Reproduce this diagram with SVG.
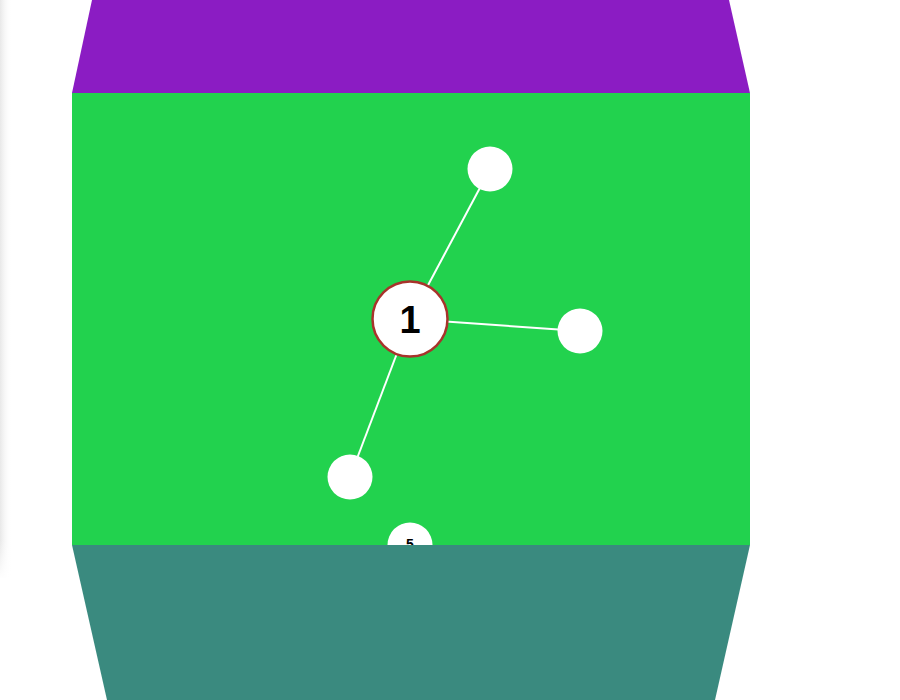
<svg xmlns="http://www.w3.org/2000/svg" width="900" height="700" viewBox="0 0 900 700">
<defs>
<linearGradient id="shadow" x1="0" y1="0" x2="1" y2="0">
<stop offset="0" stop-color="#e8e8e8"/>
<stop offset="1" stop-color="#ffffff" stop-opacity="0"/>
</linearGradient>
<linearGradient id="shadowfade" x1="0" y1="0" x2="0" y2="1">
<stop offset="0" stop-color="#fff" stop-opacity="0"/>
<stop offset="1" stop-color="#fff" stop-opacity="1"/>
</linearGradient>
</defs>
<style>
.edge{stroke:#ffffff;stroke-width:2;fill:none}
.leaf{fill:#ffffff}
.hub{fill:#ffffff;stroke:#a8332b;stroke-width:2.5}
.lbl{font-family:"Liberation Sans",Arial,sans-serif;font-weight:bold;fill:#000;text-anchor:middle;dominant-baseline:central}
</style>
<rect x="0" y="0" width="900" height="700" fill="#ffffff"/>
<rect x="0" y="0" width="12" height="578" fill="url(#shadow)"/>
<rect x="0" y="540" width="12" height="40" fill="url(#shadowfade)"/>
<polygon id="top-band" points="92,0 729,0 750,93 72,93" fill="#8b1cc3"/>
<rect id="middle-band" x="72" y="93" width="678" height="452" fill="#22d24e"/>
<g id="connectors">
<line class="edge" x1="410" y1="319" x2="490" y2="169"/>
<line class="edge" x1="410" y1="319" x2="580" y2="331"/>
<line class="edge" x1="410" y1="319" x2="350" y2="477"/>
</g>
<g id="node-1">
<circle class="hub" cx="410" cy="319" r="37.5"/>
<text class="lbl" x="410" y="320" font-size="38">1</text>
</g>
<g id="node-2"><circle class="leaf" cx="490" cy="169" r="22.5"/></g>
<g id="node-3"><circle class="leaf" cx="580" cy="331" r="22.5"/></g>
<g id="node-4"><circle class="leaf" cx="350" cy="477" r="22.5"/></g>
<g id="node-5">
<circle class="leaf" cx="410" cy="545" r="22.5"/>
<text class="lbl" x="410" y="544" font-size="14">5</text>
</g>
<polygon id="bottom-band" points="72,545 750,545 715,700 107,700" fill="#3a8a7f"/>
</svg>
